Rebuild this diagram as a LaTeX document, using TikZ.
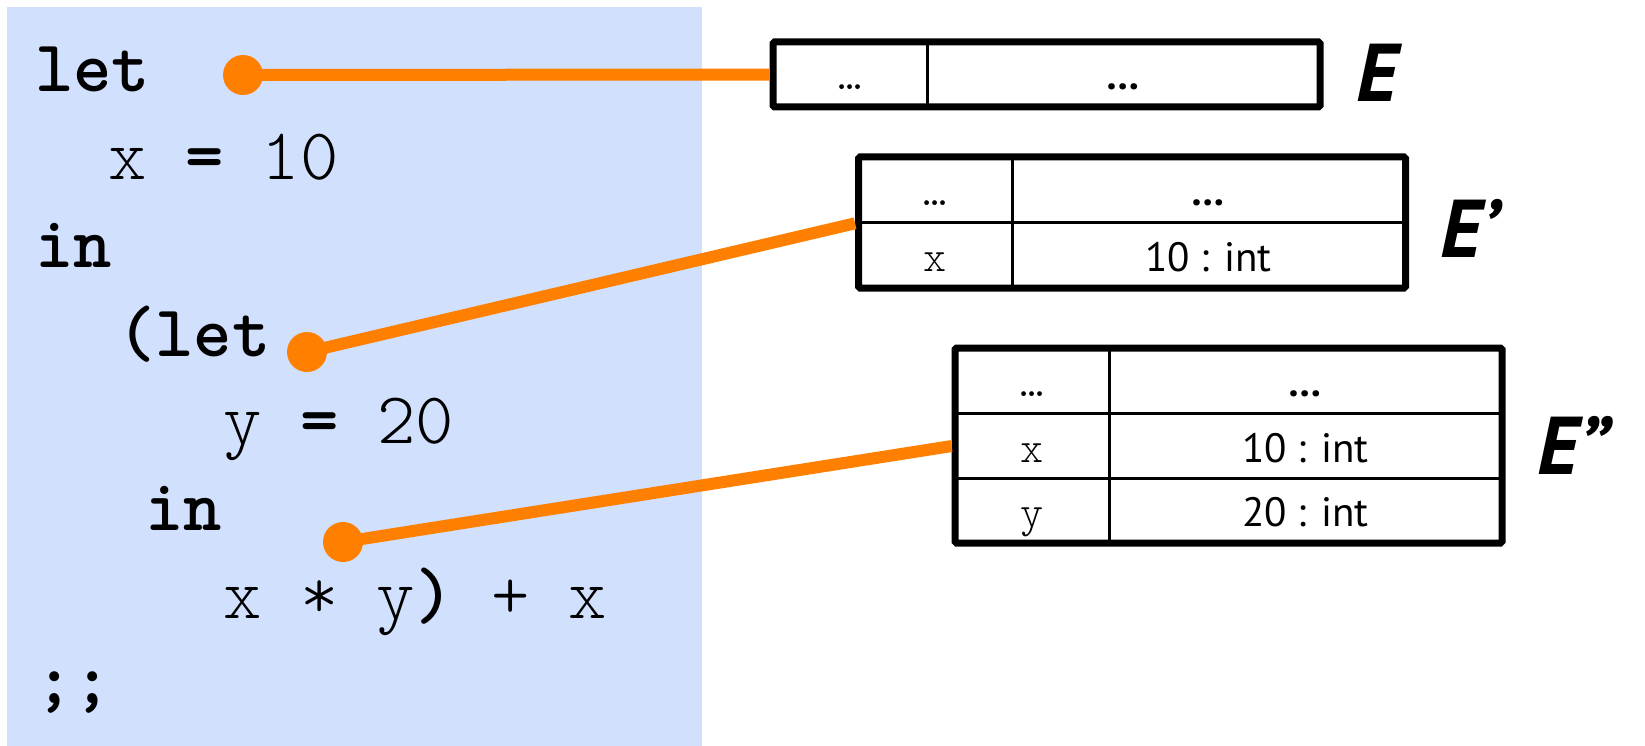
\documentclass[tikz,border=0pt]{standalone}
\usepackage{fontspec}
\newfontfamily\labelfont{PT Sans}
\newfontfamily\codefont{lmmonolt10-regular.otf}[BoldFont=lmmonolt10-bold.otf]
\definecolor{codebg}{RGB}{209,224,253}
\definecolor{linkorange}{RGB}{255,127,0}
\tikzset{
  code/.style={anchor=base west, inner sep=0pt, font=\fontsize{73}{73}\selectfont\codefont},
  envtab/.style={draw=black, line width=7pt, rounded corners=1.5pt, minimum width=547pt, inner sep=0pt, outer sep=0pt},
  cellrule/.style={draw=black, line width=3pt},
  keycell/.style={anchor=base, inner sep=0pt, font=\fontsize{44}{44}\selectfont\codefont},
  valcell/.style={anchor=base, inner sep=0pt, font=\fontsize{41}{41}\selectfont\labelfont},
  envname/.style={anchor=base west, inner sep=0pt, font=\fontsize{82}{82}\selectfont\labelfont\bfseries\itshape},
  link/.style={draw=linkorange, line width=12pt, shorten >=3.5pt},
  pin/.style={circle, fill=linkorange, inner sep=0pt, minimum size=40pt}
}
\begin{document}
\begin{tikzpicture}[x=1pt,y=-1pt]
\useasboundingbox (0,0) rectangle (1645,746);
% program text on its shaded panel
\fill[codebg] (7,7) rectangle (702,746);
\node[code] (c1) at (35,92)  {\textbf{let}};
\node[code] (c2) at (108.4,180) {x \textbf{=} 10};
\node[code] (c3) at (35,267) {\textbf{in}};
\node[code] (c4) at (117,356) {\textbf{(let}};
\node[code] (c5) at (223.5,443) {y \textbf{=} 20};
\node[code] (c6) at (145.1,530) {\textbf{in}};
\node[code] (c7) at (223.5,618) {x * y\textbf{)} + x};
\node[code] (c8) at (35,703) {\textbf{;;}};

% environment E
\node[envtab, minimum height=65pt] (tE) at (1046.5,74.5) {};
\draw[cellrule] ([xshift=154pt]tE.north west) -- ([xshift=154pt]tE.south west);
\node[keycell] (e0k) at (850,90) {…};
\node[valcell] (e0v) at (1123.5,90) {\bfseries …};
\node[envname] (nE) at (1356,102) {E};

% environment E'
\node[envtab, minimum height=131pt] (tE1) at (1132,222.5) {};
\draw[cellrule] ([xshift=154pt]tE1.north west) -- ([xshift=154pt]tE1.south west);
\draw[cellrule] ([yshift=-65pt]tE1.north west) -- ([yshift=-65pt]tE1.north east);
\node[keycell] (e1k1) at (935,205) {…};
\node[valcell] (e1v1) at (1208.5,205) {\bfseries …};
\node[keycell] (e1k2) at (935,271) {x};
\node[valcell] (e1v2) at (1208.5,271) {10 : int};
\node[envname] (nE1) at (1440,257) {E’};

% environment E''
\node[envtab, minimum height=195pt] (tE2) at (1228.5,445.5) {};
\draw[cellrule] ([xshift=154pt]tE2.north west) -- ([xshift=154pt]tE2.south west);
\draw[cellrule] ([yshift=-65pt]tE2.north west) -- ([yshift=-65pt]tE2.north east);
\draw[cellrule] ([yshift=-130pt]tE2.north west) -- ([yshift=-130pt]tE2.north east);
\node[keycell] (e2k1) at (1032,396) {…};
\node[valcell] (e2v1) at (1305.5,396) {\bfseries …};
\node[keycell] (e2k2) at (1032,462) {x};
\node[valcell] (e2v2) at (1305.5,462) {10 : int};
\node[keycell] (e2k3) at (1032,526) {y};
\node[valcell] (e2v3) at (1305.5,526) {20 : int};
\node[envname] (nE2) at (1537,474) {E”};

% pins into the program and their links to the environments
\node[pin] (p1) at (243,75) {};
\node[pin] (p2) at (307,352) {};
\node[pin] (p3) at (343,542) {};
\draw[link] (p1.center) -- (tE.west);
\draw[link] (p2.center) -- (tE1.west);
\draw[link] (p3.center) -- (tE2.west);
\end{tikzpicture}
\end{document}
